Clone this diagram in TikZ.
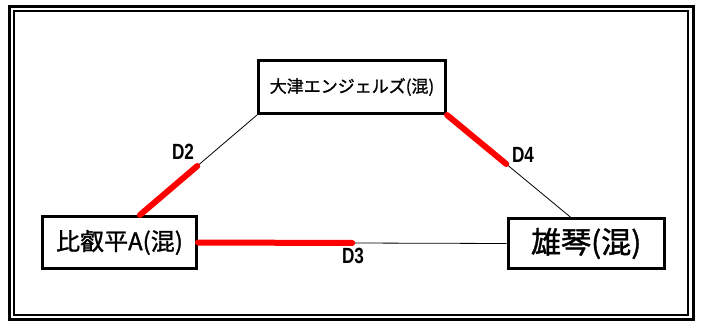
\documentclass[tikz,border=0pt]{standalone}
\usepackage{fontspec}
\newfontfamily\jpfont{Noto Sans CJK JP}[FakeBold=1.2]
\newfontfamily\lblfont{Liberation Sans}
\usetikzlibrary{calc}
\definecolor{winred}{RGB}{255,0,0}
\tikzset{
    team/.style={draw, line width=3pt, inner sep=0pt, fill=white},
    tie/.style={line width=0.8pt},
    win/.style={draw=winred, line width=6pt, line cap=round},
    dlabel/.style={font=\lblfont\bfseries\fontsize{22}{22}\selectfont, xscale=0.78, transform shape, inner sep=0pt}
}
\begin{document}
\begin{tikzpicture}[x=1pt,y=-1pt]
    \useasboundingbox (0,0) rectangle (701,323);

    % Double frame
    \draw[line width=3pt] (9.5,6.5) rectangle (693.5,319.5);
    \draw[line width=2pt] (14,11) rectangle (688,315);

    % Teams
    \node[team, minimum width=187pt, minimum height=53pt, font=\jpfont\fontsize{17}{17}\selectfont] (otsu) at (352,87) {大津エンジェルズ(混)};
    \node[team, minimum width=154pt, minimum height=52pt, font=\jpfont\fontsize{24}{24}\selectfont] (hiei) at (119.5,242.5) {比叡平A(混)};
    \node[team, minimum width=156.5pt, minimum height=50pt, font=\jpfont\fontsize{30}{30}\selectfont] (koto) at (586.25,243.5) {雄琴(混)};

    % Ends of the connectors on the box tops
    \coordinate (hieitop) at ($(hiei.north west)!0.63!(hiei.north east)$);
    \coordinate (kototop) at ($(koto.north west)!0.4!(koto.north east)$);

    % Matches
    \draw[tie] (otsu.south west) -- (hieitop);
    \draw[tie] (hiei.east) -- (koto.west);
    \draw[tie] (otsu.south east) -- (kototop);

    % Winning halves
    \draw[win] (hieitop) -- ($(hieitop)!0.49!(otsu.south west)$);
    \draw[win] (hiei.east) -- ($(hiei.east)!0.5!(koto.west)$);
    \draw[win] (otsu.south east) -- ($(otsu.south east)!0.48!(kototop)$);

    % Match labels
    \node[dlabel] (d2) at (183,152) {D2};
    \node[dlabel] (d3) at (353,256) {D3};
    \node[dlabel] (d4) at (523,155) {D4};
\end{tikzpicture}
\end{document}
